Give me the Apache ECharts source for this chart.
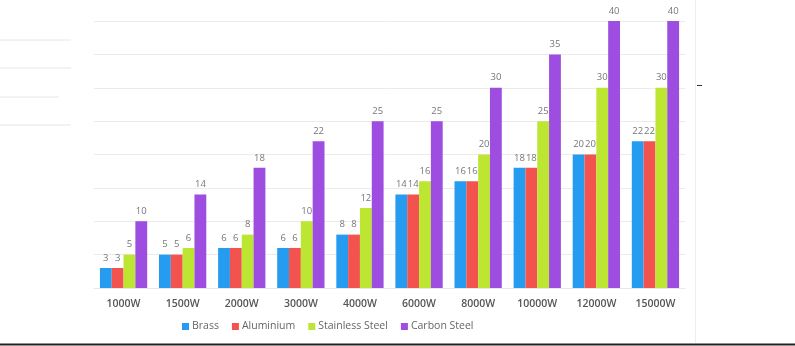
<!DOCTYPE html>
<html>
<head>
<meta charset="utf-8">
<script src="https://cdn.jsdelivr.net/npm/echarts@6/dist/echarts.min.js"></script>
<style>html,body{margin:0;padding:0;background:#fff}#c{width:795px;height:346px}</style>
</head>
<body>
<div id="c"></div>
<script>
const categories = ['1000W','1500W','2000W','3000W','4000W','6000W','8000W','10000W','12000W','15000W'];
const brass = [3,5,6,6,8,14,16,18,20,22];
const aluminium = [3,5,6,6,8,14,16,18,20,22];
const stainless = [5,6,8,10,12,16,20,25,30,30];
const carbon = [10,14,18,22,25,25,30,35,40,40];
const seriesNames = ['Brass','Aluminium','Stainless Steel','Carbon Steel'];
const colors = ['#259cef','#f2534f','#bde632','#9d4ddf'];

const chart = echarts.init(document.getElementById('c'), null, {renderer:'canvas'});
const datas = [brass, aluminium, stainless, carbon];
const font = '"Open Sans", sans-serif';
chart.setOption({
  animation:false,
  backgroundColor:'#ffffff',
  color: colors,
  grid:{left:94,right:110,top:21,bottom:58},
  legend:{
    data: seriesNames,
    left:177, top:316,
    itemWidth:7, itemHeight:7, itemGap:13,
    icon:'rect',
    textStyle:{color:'#666', fontSize:10.5, fontFamily:font, padding:[0,0,0,-2]}
  },
  xAxis:{
    type:'category', data:categories,
    axisLine:{lineStyle:{color:'#e8e8e8'}},
    axisTick:{show:false},
    axisLabel:{color:'#555', fontSize:10.5, fontWeight:600, fontFamily:font, margin:11}
  },
  yAxis:{
    type:'value', min:0, max:40, interval:5,
    axisLabel:{show:false}, axisLine:{show:false}, axisTick:{show:false},
    splitLine:{lineStyle:{color:'#ebebeb'}}
  },
  series: datas.map((d,i)=>({
    name: seriesNames[i], type:'bar', data:d,
    barGap:'0%', barCategoryGap:'20%',
    label:{show:true, position:'top', distance:5, color:'#777', fontSize:9.5, fontFamily:font}
  })),
  graphic:[
    {type:'line', shape:{x1:0,y1:40,x2:71,y2:40}, style:{stroke:'#e6e6e6',lineWidth:1}},
    {type:'line', shape:{x1:0,y1:68,x2:71,y2:68}, style:{stroke:'#e6e6e6',lineWidth:1}},
    {type:'line', shape:{x1:0,y1:97,x2:59,y2:97}, style:{stroke:'#e6e6e6',lineWidth:1}},
    {type:'line', shape:{x1:0,y1:125,x2:71,y2:125}, style:{stroke:'#e6e6e6',lineWidth:1}},
    {type:'line', shape:{x1:695.5,y1:0,x2:695.5,y2:343}, style:{stroke:'#eeeeee',lineWidth:1}},
    {type:'line', shape:{x1:0,y1:344.5,x2:795,y2:344.5}, style:{stroke:'#222',lineWidth:2}},
    {type:'line', shape:{x1:697,y1:85.5,x2:702,y2:85.5}, style:{stroke:'#333',lineWidth:1}}
  ]
});
</script>
</body>
</html>
